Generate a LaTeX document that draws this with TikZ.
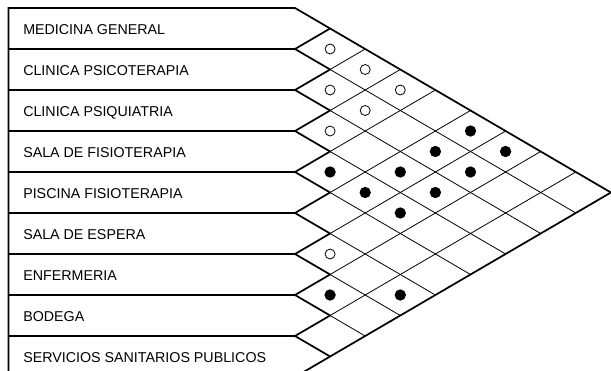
\documentclass[tikz,border=0pt]{standalone}
\usepackage{fontspec}
\setmainfont{Liberation Sans}
\begin{document}
\begin{tikzpicture}[x=0.75pt,y=-0.75pt,
  lbl/.style={anchor=base west,inner sep=0pt,font=\fontsize{10.7}{12}\selectfont},
  outer/.style={line width=1.3pt,line join=miter},
  rowsep/.style={line width=0.9pt},
  gridline/.style={line width=0.6pt},
  opendot/.style={circle,draw,line width=0.6pt,minimum size=7.5pt,inner sep=0pt},
  fulldot/.style={circle,fill,minimum size=8.5pt,inner sep=0pt}]
\def\XA{295}\def\DX{35.1}\def\YA{8}\def\HH{41}\def\hh{20.5}\def\XL{8.5}
\useasboundingbox (0,0) rectangle (611,371);
\clip (0,0) rectangle (611,371);
% row separators
\foreach \k in {1,...,8}
  \draw[rowsep] (\XL,{\YA+\HH*\k}) -- (\XA,{\YA+\HH*\k});
% thin lattice
\foreach \k in {2,...,8}
  \draw[gridline] ({\XA+\DX},{\YA+\HH*\k-\hh}) -- ({\XA+\DX*\k},{\YA+\hh*\k});
\foreach \k in {1,...,7}
  \draw[gridline] ({\XA+\DX},{\YA+\HH*\k+\hh}) -- ({\XA+\DX*(9-\k)},{\YA+\HH*\k+\hh*(9-\k)});
% outer thick outline
\draw[outer] (\XL,{\YA+9*\HH}) -- (\XL,\YA) -- (\XA,\YA) -- ({\XA+9*\DX},{\YA+9*\hh}) -- (\XA,{\YA+9*\HH}) -- (\XL,{\YA+9*\HH});
\foreach \k in {1,...,8}
  \draw[outer] ({\XA+\DX},{\YA+\HH*\k-\hh}) -- (\XA,{\YA+\HH*\k}) -- ({\XA+\DX},{\YA+\HH*\k+\hh});
% labels
\foreach \k/\t in {0/MEDICINA GENERAL,1/CLINICA PSICOTERAPIA,2/CLINICA PSIQUIATRIA,3/SALA DE FISIOTERAPIA,4/PISCINA FISIOTERAPIA,5/SALA DE ESPERA,6/ENFERMERIA,7/BODEGA,8/SERVICIOS SANITARIOS PUBLICOS}
  \node[lbl] (r\k) at (23,{\YA+\HH*\k+26}) {\t};
% relationship marks
\foreach \i/\j in {0/1,0/2,1/2,0/3,1/3,2/3,5/6}
  \node[opendot] (o\i-\j) at ({\XA+\DX*(\j-\i)},{\YA+\hh*(\i+\j+1)}) {};
\foreach \i/\j in {0/5,1/5,0/6,3/4,2/5,1/6,3/5,2/6,3/6,6/7,5/8}
  \node[fulldot] (f\i-\j) at ({\XA+\DX*(\j-\i)},{\YA+\hh*(\i+\j+1)}) {};
\end{tikzpicture}
\end{document}
